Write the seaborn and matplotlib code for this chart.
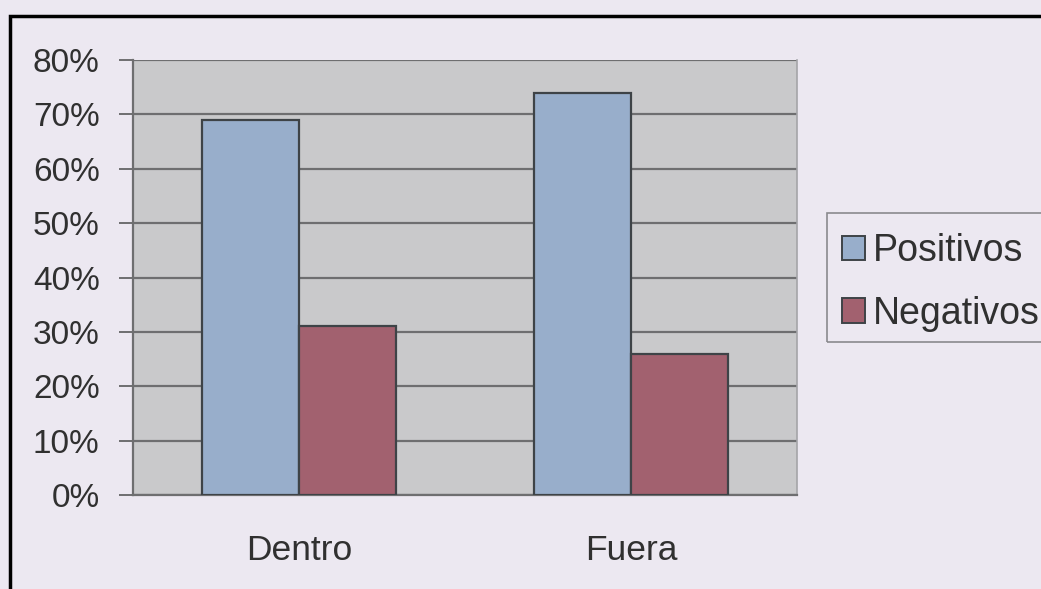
import matplotlib
matplotlib.use("Agg")
import matplotlib.pyplot as plt
import seaborn as sns
import pandas as pd
from matplotlib.patches import Rectangle

categories = ["Dentro", "Fuera"]
series = ["Positivos", "Negativos"]
positivos = [69, 74]
negativos = [31, 26]
ytick_values = [0, 10, 20, 30, 40, 50, 60, 70, 80]
ytick_labels = ["0%", "10%", "20%", "30%", "40%", "50%", "60%", "70%", "80%"]
colors = ["#98AECB", "#A2616F"]

df = pd.DataFrame({
    "cat": categories * 2,
    "serie": [series[0]] * 2 + [series[1]] * 2,
    "val": positivos + negativos,
})

sns.set_theme(style="white")
plt.rcParams["font.family"] = ["Liberation Sans", "DejaVu Sans"]

W, H = 1041, 589
fig = plt.figure(figsize=(W / 100, H / 100), dpi=100)
fig.patch.set_facecolor("#ECE8F1")
ax = fig.add_axes([133 / W, 1 - 495 / H, (797 - 133) / W, (495 - 60) / H])
ax.set_facecolor("#C9C9CB")

sns.barplot(data=df, x="cat", y="val", hue="serie", hue_order=series,
            palette=colors, width=0.584, ax=ax, edgecolor="#3E4347",
            linewidth=1.6, saturation=1, zorder=3)

ax.set_ylim(0, 80)
ax.set_xlim(-0.5, 1.5)
ax.set_yticks(ytick_values)
ax.set_yticklabels(ytick_labels)
ax.yaxis.grid(True, color="#6E6E70", linewidth=1.6, zorder=0)
ax.set_axisbelow(True)
ax.set_xlabel("")
ax.set_ylabel("")

# x ticks at category boundaries, labels at centres
ax.set_xticks([0, 1])
ax.set_xticklabels(categories)
ax.set_xticks([-0.5, 0.5, 1.5], minor=True)
ax.tick_params(axis="x", which="major", length=0, pad=28, labelsize=25.5, labelcolor="#303030")
ax.tick_params(axis="x", which="minor", length=8, width=1.3, color="#6E6E70", direction="out")
ax.tick_params(axis="y", which="major", length=10, width=1.4, color="#6E6E70",
               direction="out", labelsize=24, labelcolor="#303030", pad=14, left=True)

for side in ["left", "bottom"]:
    ax.spines[side].set_color("#6E6E70")
    ax.spines[side].set_linewidth(1.6)
ax.spines["top"].set_visible(False)
ax.spines["right"].set_color("#A4A4A8")
ax.spines["right"].set_linewidth(1.2)

leg = ax.legend(loc="upper left", bbox_to_anchor=(842 / W, 1 - 233 / H),
                bbox_transform=fig.transFigure, frameon=False,
                fontsize=27, handlelength=0.62, handleheight=0.62,
                handletextpad=0.2, labelspacing=0.71, borderpad=0,
                borderaxespad=0, labelcolor="#303030")
for h in leg.legend_handles:
    h.set_edgecolor("#3E4347")
    h.set_linewidth(1.4)

# legend box (extends past the right edge as in the reference)
fig.patches.append(Rectangle((827 / W, 1 - 342 / H), 0.3, (342 - 213) / H,
                             transform=fig.transFigure, fill=False,
                             edgecolor="#8A8A8E", linewidth=1.2, zorder=1))

# outer black frame
fig.patches.append(Rectangle((10 / W, -0.05), 1.2, 1 - 16 / H + 0.05,
                             transform=fig.transFigure, fill=False,
                             edgecolor="black", linewidth=2.5, zorder=10))

fig.savefig("out.png", dpi=100)
